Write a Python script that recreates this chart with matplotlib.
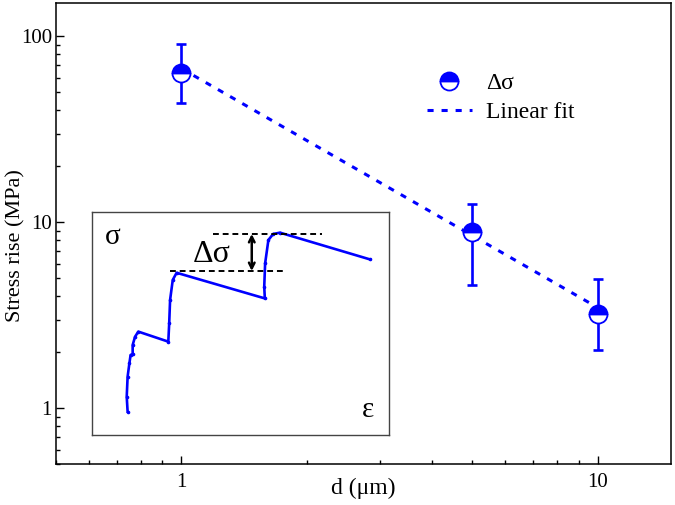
import numpy as np
import matplotlib
matplotlib.use("Agg")
import matplotlib.pyplot as plt
from matplotlib.ticker import LogLocator, NullFormatter, FixedLocator, FixedFormatter

plt.rcParams["font.family"] = ["Liberation Serif", "DejaVu Serif"]

# main data: stress rise vs grain size
d_um = [1, 5, 10]
stress_rise = [63.6, 8.9, 3.23]
err_low = [43.6, 4.58, 2.07]
err_high = [90.3, 12.5, 4.96]

fit_d = [1, 10]
fit_stress = [67.1, 3.48]

# inset schematic stress-strain curve (arbitrary units)
inset_strain = [11.9, 11.6, 11.9, 12.5, 12.9, 13.6, 13.6, 14.4, 15.5, 25.6,
                25.9, 26.2, 27.1, 28.4, 58.1, 57.9, 58.2, 59.3, 60.9, 63.2, 93.5]
inset_stress = [10.3, 17.0, 26.0, 32.0, 35.7, 36.2, 40.2, 43.9, 46.2, 41.7,
                49.9, 60.4, 69.4, 72.6, 61.1, 66.4, 76.8, 87.3, 90.0, 90.6, 78.6]
upper_ref = ([40.7, 77.3], 90.0)
lower_ref = ([26.2, 64.9], 73.4)

BLUE = "#0000ff"

fig = plt.figure(figsize=(6.75, 5.05), dpi=100)
ax = fig.add_axes([0.083, 0.0806, 0.911, 0.9125])

yerr = [np.array(stress_rise) - np.array(err_low),
        np.array(err_high) - np.array(stress_rise)]
ax.errorbar(d_um, stress_rise, yerr=yerr, fmt="none", ecolor=BLUE,
            elinewidth=1.9, capsize=3.3, capthick=1.9, zorder=2)
ax.plot(fit_d, fit_stress, color=BLUE, lw=2.2, dashes=(2.0, 2.6),
        dash_capstyle="butt", zorder=3, label="Linear fit")
ax.plot(d_um, stress_rise, ls="none", marker="o", ms=13, fillstyle="top",
        markerfacecolor=BLUE, markerfacecoloralt="white",
        markeredgecolor=BLUE, markeredgewidth=1.3, zorder=4, label="Δσ")

ax.set_xscale("log")
ax.set_yscale("log")
ax.set_xlim(0.5, 15)
ax.set_ylim(0.5, 150)

ax.xaxis.set_major_locator(FixedLocator([1, 10]))
ax.xaxis.set_major_formatter(FixedFormatter(["1", "10"]))
ax.yaxis.set_major_locator(FixedLocator([1, 10, 100]))
ax.yaxis.set_major_formatter(FixedFormatter(["1", "10", "100"]))
ax.xaxis.set_minor_locator(LogLocator(base=10, subs=np.arange(2, 10)))
ax.yaxis.set_minor_locator(LogLocator(base=10, subs=np.arange(2, 10)))
ax.xaxis.set_minor_formatter(NullFormatter())
ax.yaxis.set_minor_formatter(NullFormatter())

ax.tick_params(which="major", direction="in", length=5.5, width=1.0,
               labelsize=15, top=False, right=False)
ax.tick_params(axis="x", which="major", pad=6)
ax.tick_params(axis="y", which="major", pad=3)
ax.tick_params(which="minor", direction="in", length=3, width=1.0,
               top=False, right=False)
for spine in ax.spines.values():
    spine.set_linewidth(1.1)

ax.set_xlabel("d (μm)", fontsize=17)
ax.set_ylabel("Stress rise (MPa)", fontsize=16)
ax.xaxis.set_label_coords(0.5, -0.03)
ax.yaxis.set_label_coords(-0.05, 0.475)

handles, labels = ax.get_legend_handles_labels()
ax.legend(handles[::-1], labels[::-1], loc="upper left",
          bbox_to_anchor=(0.603, 0.85), frameon=False, fontsize=17,
          borderpad=0, borderaxespad=0, handlelength=1.9, handletextpad=0.6,
          labelspacing=0.33)

# inset
ins = fig.add_axes([0.1367, 0.1394, 0.44, 0.4414])
ins.set_xlim(0, 100)
ins.set_ylim(0, 100)
ins.set_xticks([])
ins.set_yticks([])
for spine in ins.spines.values():
    spine.set_linewidth(1.0)
    spine.set_edgecolor("#444444")

ins.plot(inset_strain, inset_stress, color=BLUE, lw=1.9, marker="o", ms=1.6)
ins.plot(upper_ref[0], [upper_ref[1]] * 2, color="black", lw=1.4, ls=(0, (3, 2)))
ins.plot(lower_ref[0], [lower_ref[1]] * 2, color="black", lw=1.4, ls=(0, (3, 2)))
ins.annotate("", xy=(53.7, upper_ref[1]), xytext=(53.7, lower_ref[1]),
             arrowprops=dict(arrowstyle="<->", color="black", lw=1.8,
                             shrinkA=0, shrinkB=0))
ins.text(7, 88.6, "σ", fontsize=21, ha="center", va="center")
ins.text(40.2, 80.6, "Δσ", fontsize=23, ha="center", va="center")
ins.text(93, 11, "ε", fontsize=21, ha="center", va="center")

fig.savefig("out.png", dpi=100)
